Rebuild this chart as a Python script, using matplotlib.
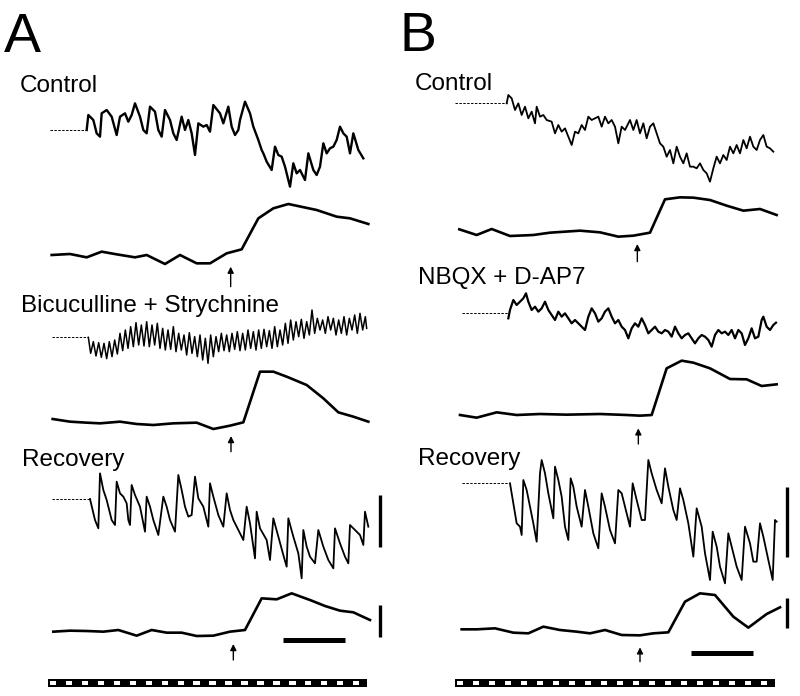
import numpy as np
import matplotlib.pyplot as plt
from matplotlib.patches import Rectangle

plt.rcParams['font.family'] = ['Liberation Sans', 'DejaVu Sans']

# readings in sweep units (x) and trace-local units (y, larger = more negative)
sweep_seconds = 20

a_ctrl_rest = 390
a_ctrl_vm = [(260, 390), (265, 345), (280, 360), (290, 400), (300, 410), (305, 340), (320, 330),
             (335, 350), (350, 405), (360, 350), (375, 340), (385, 365), (395, 345), (405, 310),
             (420, 350), (430, 390), (440, 400), (450, 320), (465, 335), (475, 390), (485, 410),
             (495, 330), (510, 360), (520, 400), (530, 420), (545, 350), (555, 390), (565, 360),
             (575, 400), (585, 465), (595, 370), (610, 380), (620, 375), (630, 395), (640, 315),
             (660, 340), (670, 370), (685, 320), (695, 380), (705, 405), (715, 390), (720, 360),
             (735, 305), (750, 340), (760, 380), (775, 420), (785, 450), (790, 460), (800, 485),
             (815, 510), (825, 440), (835, 465), (845, 470), (855, 500), (870, 560), (880, 490),
             (890, 520), (900, 510), (915, 540), (925, 460), (940, 510), (950, 525), (960, 500),
             (970, 430), (980, 460), (990, 445), (1000, 440), (1010, 420), (1020, 380), (1030, 400),
             (1040, 410), (1050, 460), (1060, 400), (1075, 450), (1090, 475)]
a_ctrl_im = [(155, 765), (210, 762), (260, 772), (305, 755), (350, 763), (405, 772), (440, 765),
             (495, 792), (540, 765), (590, 790), (630, 790), (680, 760), (725, 748), (775, 655),
             (820, 625), (865, 612), (950, 630), (1010, 650), (1050, 655), (1105, 672)]

a_bic_rest = 172
a_bic_vm = [(265, 172), (272, 220), (280, 185), (288, 228), (296, 188), (304, 232), (312, 190),
            (320, 236), (328, 185), (336, 230), (344, 180), (352, 222), (360, 160), (368, 212),
            (376, 150), (384, 205), (392, 140), (400, 200), (408, 128), (416, 195), (424, 135),
            (432, 198), (440, 125), (448, 200), (456, 135), (464, 195), (472, 130), (480, 205),
            (488, 145), (496, 210), (504, 150), (512, 208), (520, 140), (528, 215), (536, 160),
            (544, 210), (552, 165), (560, 225), (568, 158), (576, 220), (584, 170), (592, 230),
            (600, 165), (608, 240), (616, 175), (624, 250), (632, 165), (640, 230), (648, 170),
            (656, 215), (664, 160), (672, 212), (680, 165), (688, 215), (696, 160), (704, 208),
            (712, 155), (720, 212), (728, 160), (736, 210), (744, 150), (752, 205), (760, 155),
            (768, 210), (776, 150), (784, 205), (792, 148), (800, 200), (808, 152), (816, 205),
            (824, 140), (832, 200), (840, 150), (848, 195), (856, 130), (864, 190), (872, 120),
            (880, 180), (888, 125), (896, 170), (904, 118), (912, 175), (920, 125), (928, 165),
            (936, 90), (944, 160), (952, 115), (960, 150), (968, 120), (976, 160), (984, 110),
            (992, 150), (1000, 115), (1008, 165), (1016, 120), (1024, 160), (1032, 110),
            (1040, 165), (1048, 115), (1056, 150), (1064, 105), (1072, 160), (1080, 100),
            (1088, 150), (1096, 110), (1100, 145)]
a_bic_im = [(158, 417), (210, 425), (260, 428), (300, 430), (360, 425), (410, 432), (460, 435),
            (520, 430), (590, 428), (640, 447), (690, 437), (730, 427), (780, 275), (820, 275),
            (860, 290), (920, 315), (970, 355), (1015, 397), (1060, 410), (1105, 425)]

a_rec_rest = 177
a_rec_vm = [(270, 177), (285, 240), (295, 265), (300, 100), (310, 150), (320, 180), (335, 240),
            (345, 255), (350, 125), (360, 160), (370, 170), (380, 190), (385, 240), (390, 255),
            (395, 135), (405, 165), (420, 200), (435, 275), (440, 170), (450, 200), (460, 240),
            (475, 285), (490, 170), (500, 200), (510, 240), (525, 275), (535, 105), (545, 150),
            (555, 200), (565, 230), (575, 225), (585, 110), (595, 175), (610, 200), (625, 260),
            (630, 130), (640, 170), (655, 225), (670, 260), (680, 160), (690, 210), (700, 240),
            (715, 270), (730, 300), (740, 200), (750, 250), (765, 355), (770, 215), (780, 265),
            (800, 300), (810, 360), (820, 235), (835, 290), (850, 345), (860, 380), (865, 235),
            (880, 290), (895, 340), (905, 415), (910, 270), (920, 320), (930, 350), (945, 370),
            (955, 270), (970, 320), (985, 360), (1000, 385), (1005, 265), (1020, 310), (1035, 350),
            (1045, 370), (1050, 255), (1065, 270), (1080, 285), (1090, 315), (1095, 215), (1105, 260)]
a_rec_im = [(160, 575), (210, 572), (260, 573), (310, 575), (355, 570), (410, 587), (455, 570),
            (500, 578), (545, 578), (590, 588), (640, 587), (690, 575), (735, 570), (785, 475),
            (830, 478), (875, 460), (930, 480), (975, 498), (1020, 512), (1060, 517), (1110, 540)]

b_ctrl_rest = 310
b_ctrl_vm = [(320, 310), (325, 285), (335, 295), (345, 330), (355, 310), (365, 345), (375, 320),
             (385, 355), (395, 335), (405, 370), (410, 320), (420, 350), (430, 345), (440, 360),
             (455, 365), (465, 400), (475, 375), (485, 395), (495, 385), (505, 410), (515, 435),
             (525, 395), (535, 400), (545, 375), (555, 390), (565, 350), (575, 360), (585, 355),
             (595, 350), (605, 380), (615, 350), (625, 370), (635, 360), (645, 380), (655, 430),
             (665, 380), (675, 390), (690, 360), (700, 390), (710, 360), (720, 400), (730, 370),
             (740, 415), (750, 380), (760, 370), (770, 400), (780, 430), (790, 440), (800, 470),
             (810, 450), (820, 490), (830, 440), (840, 470), (850, 490), (860, 460), (870, 500),
             (880, 500), (890, 505), (900, 490), (910, 510), (920, 520), (930, 545), (940, 505),
             (950, 470), (960, 490), (970, 465), (980, 480), (990, 440), (1000, 460), (1010, 435),
             (1020, 460), (1030, 420), (1040, 445), (1050, 410), (1060, 440), (1070, 450),
             (1080, 420), (1090, 405), (1100, 440), (1110, 445), (1120, 455)]
b_ctrl_im = [(178, 688), (230, 705), (275, 687), (330, 708), (400, 705), (450, 698), (540, 692),
             (600, 697), (655, 710), (700, 707), (750, 698), (795, 598), (840, 592), (880, 593),
             (930, 600), (980, 617), (1030, 632), (1080, 627), (1130, 645)]

b_nbqx_rest = 100
b_nbqx_vm = [(325, 115), (330, 90), (340, 60), (350, 75), (360, 65), (370, 55), (378, 40), (385, 65),
             (395, 90), (405, 80), (415, 95), (425, 85), (435, 65), (445, 90), (455, 105), (465, 120),
             (475, 95), (485, 110), (495, 100), (505, 115), (515, 130), (525, 120), (535, 130),
             (545, 140), (555, 150), (565, 110), (575, 85), (585, 100), (595, 125), (605, 115),
             (615, 95), (625, 85), (635, 110), (645, 130), (655, 120), (665, 140), (675, 150),
             (685, 175), (695, 145), (705, 130), (715, 140), (725, 115), (735, 135), (745, 160),
             (755, 150), (765, 140), (775, 155), (785, 160), (795, 150), (805, 155), (815, 170),
             (825, 140), (835, 160), (845, 175), (855, 165), (865, 160), (875, 175), (885, 190),
             (895, 175), (905, 165), (915, 170), (925, 180), (935, 200), (945, 165), (955, 150),
             (965, 160), (975, 155), (985, 165), (995, 150), (1005, 175), (1015, 150), (1025, 160),
             (1035, 195), (1045, 175), (1055, 145), (1065, 175), (1075, 170), (1085, 120),
             (1090, 110), (1100, 140), (1110, 150), (1120, 135), (1128, 128)]
b_nbqx_im = [(180, 405), (230, 413), (290, 397), (350, 405), (420, 402), (500, 404), (600, 402),
             (680, 405), (720, 407), (755, 405), (800, 265), (845, 242), (880, 248), (930, 265),
             (990, 297), (1040, 298), (1085, 318), (1130, 313)]

b_rec_rest = 130
b_rec_vm = [(330, 130), (340, 190), (350, 250), (360, 260), (365, 285), (370, 120), (380, 150),
            (390, 200), (400, 250), (410, 305), (420, 100), (425, 60), (435, 100), (445, 160),
            (460, 235), (465, 80), (475, 120), (485, 170), (495, 260), (505, 300), (512, 115),
            (520, 140), (530, 200), (545, 260), (555, 150), (565, 200), (580, 280), (595, 325),
            (605, 160), (615, 200), (630, 270), (645, 310), (655, 150), (665, 160), (675, 200),
            (690, 260), (698, 130), (710, 180), (725, 240), (735, 240), (745, 60), (755, 100),
            (770, 150), (785, 190), (795, 85), (805, 140), (820, 210), (830, 240), (840, 145),
            (850, 180), (865, 250), (880, 350), (890, 205), (905, 260), (915, 340), (930, 420),
            (938, 275), (950, 320), (960, 380), (975, 430), (985, 280), (995, 320), (1010, 380),
            (1025, 420), (1035, 260), (1050, 310), (1060, 365), (1070, 365), (1080, 250),
            (1090, 290), (1105, 360), (1118, 420), (1125, 240), (1130, 245)]
b_rec_im = [(185, 568), (230, 568), (285, 565), (340, 578), (385, 580), (430, 560), (480, 570),
            (530, 575), (570, 580), (615, 570), (665, 585), (720, 586), (760, 580), (805, 577),
            (855, 485), (900, 460), (945, 465), (1000, 530), (1045, 563), (1100, 522), (1140, 502)]

W, H = 800, 696
fig = plt.figure(figsize=(W / 100, H / 100), dpi=100)


def region(x0, y0, w, h):
    ax = fig.add_axes([x0 / W, 1 - (y0 + h) / H, w / W, h / H])
    ax.set_xlim(0, 3 * w)
    ax.set_ylim(3 * h, 0)
    ax.axis('off')
    return ax


def vm_trace(ax, pts, rest, start, lw=1.3):
    x, y = np.array(pts).T
    ax.plot([start, x[0]], [rest, rest], color='k', lw=0.7, ls=(0, (2.5, 1.5)))
    ax.plot(x, y, color='k', lw=lw)


def im_trace(ax, pts):
    x, y = np.array(pts).T
    ax.plot(x, y, color='k', lw=1.9)


def stim_arrow(ax, x, tip, tail):
    ax.annotate('', xy=(x, tip), xytext=(x, tail),
                arrowprops=dict(arrowstyle='-|>', color='k', lw=1.0,
                                mutation_scale=9, shrinkA=0, shrinkB=0))


def vbar(ax, x, y0, y1):
    ax.plot([x, x], [y0, y1], color='k', lw=2.4, solid_capstyle='butt')


def time_bar(ax, x0, x1, y0, y1):
    ax.add_patch(Rectangle((x0, y0), x1 - x0, y1 - y0, color='k', lw=0))
    step = (x1 - x0) / sweep_seconds
    for i in range(sweep_seconds):
        ax.add_patch(Rectangle((x0 + (i + 0.12) * step, y0 + 0.3 * (y1 - y0)),
                               0.4 * step, 0.42 * (y1 - y0), color='w', lw=0))


# panel A
ax = region(0, 0, 400, 280)
vm_trace(ax, a_ctrl_vm, a_ctrl_rest, 150, lw=1.7)
im_trace(ax, a_ctrl_im)
stim_arrow(ax, 692, 800, 860)

ax = region(0, 280, 400, 200)
vm_trace(ax, a_bic_vm, a_bic_rest, 155, lw=1.1)
im_trace(ax, a_bic_im)
stim_arrow(ax, 693, 468, 515)

ax = region(0, 440, 400, 256)
vm_trace(ax, a_rec_vm, a_rec_rest, 155)
im_trace(ax, a_rec_im)
stim_arrow(ax, 700, 612, 660)
vbar(ax, 1140, 165, 320)
vbar(ax, 1140, 495, 590)
ax.plot([850, 1035], [600, 600], color='k', lw=3.6, solid_capstyle='butt')
time_bar(ax, 144, 1101, 717, 741)

# panel B
ax = region(400, 0, 400, 280)
vm_trace(ax, b_ctrl_vm, b_ctrl_rest, 165)
im_trace(ax, b_ctrl_im)
stim_arrow(ax, 712, 732, 785)

ax = region(400, 280, 400, 200)
vm_trace(ax, b_nbqx_vm, b_nbqx_rest, 185, lw=1.6)
im_trace(ax, b_nbqx_im)
stim_arrow(ax, 715, 445, 492)

ax = region(400, 440, 400, 256)
vm_trace(ax, b_rec_vm, b_rec_rest, 185)
im_trace(ax, b_rec_im)
stim_arrow(ax, 720, 622, 665)
vbar(ax, 1162, 140, 350)
vbar(ax, 1162, 475, 565)
ax.plot([872, 1060], [640, 640], color='k', lw=3.6, solid_capstyle='butt')
time_bar(ax, 165, 1125, 717, 741)

# labels
def label(x, y, s, size):
    fig.text(x / W, 1 - y / H, s, fontsize=size, ha='left', va='baseline')


label(4, 52, 'A', 40)
label(400, 51, 'B', 40)
label(20, 92, 'Control', 17.5)
label(415, 90, 'Control', 17.5)
label(21, 312, 'Bicuculline + Strychnine', 17.5)
label(418, 284, 'NBQX + D-AP7', 17.5)
label(22, 466, 'Recovery', 17.5)
label(418, 465, 'Recovery', 17.5)

fig.savefig('out.png', dpi=100, facecolor='white')
